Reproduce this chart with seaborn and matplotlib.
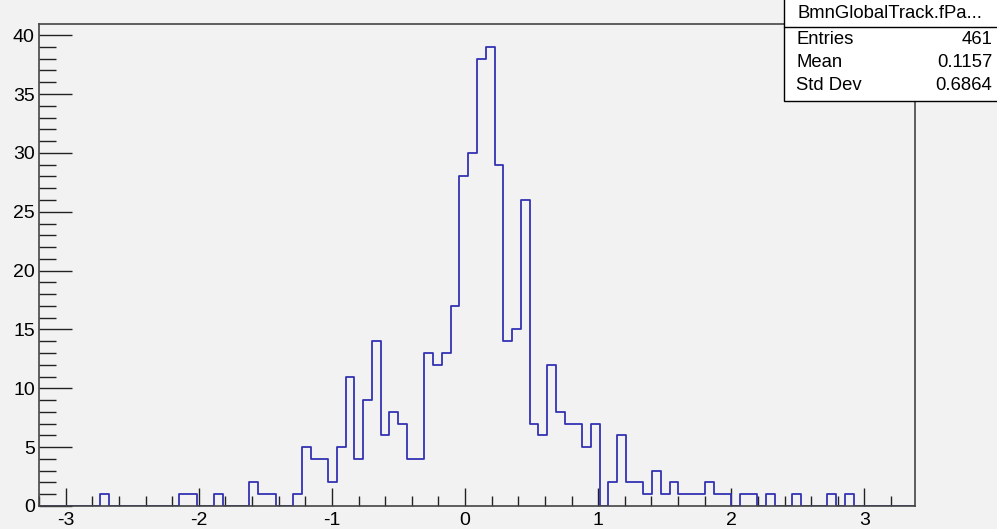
import numpy as np
import pandas as pd
import seaborn as sns
import matplotlib
matplotlib.use("Agg")
import matplotlib.pyplot as plt
from matplotlib.patches import Rectangle
from matplotlib.lines import Line2D
from matplotlib.ticker import MultipleLocator

sns.set_style("ticks")
plt.rcParams['font.family'] = ['Liberation Sans', 'DejaVu Sans']
plt.rcParams['axes.unicode_minus'] = False
plt.rcParams['text.color'] = 'black'

# histogram range and bin contents (100 bins)
x_min, x_max = -3.2, 3.38
n_bins = 100
counts = [
    0, 0, 0, 0, 0, 0, 0, 1, 0, 0,
    0, 0, 0, 0, 0, 0, 1, 1, 0, 0,
    1, 0, 0, 0, 2, 1, 1, 0, 0, 1,
    5, 4, 4, 2, 5, 11, 4, 9, 14, 6,
    8, 7, 4, 4, 13, 12, 13, 17, 28, 30,
    38, 39, 29, 14, 15, 26, 7, 6, 12, 8,
    7, 7, 5, 7, 0, 2, 6, 2, 2, 1,
    3, 1, 2, 1, 1, 1, 2, 1, 1, 0,
    1, 1, 0, 1, 0, 0, 1, 0, 0, 0,
    1, 0, 1, 0, 0, 0, 0, 0, 0, 0,
]

stats_title = "BmnGlobalTrack.fPa..."
stats_labels = ["Entries", "Mean", "Std Dev"]
stats_values = ["461", "0.1157", "0.6864"]

edges = np.linspace(x_min, x_max, n_bins + 1)
centers = 0.5 * (edges[:-1] + edges[1:])
df = pd.DataFrame({"value": centers, "count": counts})

W, H = 997, 529
bg = "#f2f2f2"
fig = plt.figure(figsize=(W / 100, H / 100), dpi=100, facecolor=bg)
ax = fig.add_axes([39 / W, 1 - 506 / H, (915 - 39) / W, (506 - 24) / H])
ax.set_facecolor(bg)

sns.histplot(data=df, x="value", weights="count", bins=n_bins, binrange=(x_min, x_max),
             element="step", fill=False, color="#3333b3", linewidth=1.3, ax=ax)

ax.set_xlim(x_min, x_max)
ax.set_ylim(0, max(counts) * 1.05)
ax.set_xlabel("")
ax.set_ylabel("")

ax.xaxis.set_major_locator(MultipleLocator(1))
ax.xaxis.set_minor_locator(MultipleLocator(0.2))
ax.yaxis.set_major_locator(MultipleLocator(5))
ax.yaxis.set_minor_locator(MultipleLocator(1))
ax.tick_params(which='both', direction='in', top=False, right=False,
               color='#222222', labelcolor='black')
ax.tick_params(axis='x', which='major', length=13, width=1, pad=4, labelsize=14)
ax.tick_params(axis='x', which='minor', length=7, width=1)
ax.tick_params(axis='y', which='major', length=23.7, width=1, pad=3, labelsize=14)
ax.tick_params(axis='y', which='minor', length=12, width=1)
for s in ax.spines.values():
    s.set_color('#444444')
    s.set_linewidth(1.2)

# stats box
bx, by = 784 / W, 1 - 101 / H
fig.add_artist(Rectangle((bx, by), 1 - bx + 0.01, 1 - by + 0.01, transform=fig.transFigure,
                         facecolor='white', edgecolor='black', lw=1, zorder=10))
fig.add_artist(Line2D([bx, 1], [1 - 27 / H] * 2, transform=fig.transFigure,
                      color='black', lw=1, zorder=11))
fig.text(890 / W, 1 - 14 / H, stats_title, ha='center', va='center', fontsize=13.3, zorder=12)
for i, (lab, val) in enumerate(zip(stats_labels, stats_values)):
    yy = 1 - (39 + 23.5 * i) / H
    fig.text(796 / W, yy, lab, ha='left', va='center', fontsize=13.3, zorder=12)
    fig.text(992 / W, yy, val, ha='right', va='center', fontsize=13.3, zorder=12)

fig.savefig("out.png", dpi=100, facecolor=bg)
